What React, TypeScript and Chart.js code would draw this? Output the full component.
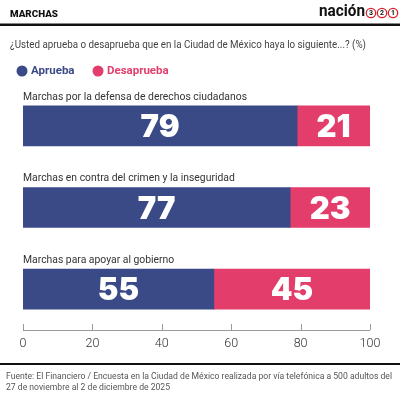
import React, { useEffect, useRef } from "react";
import { Chart, registerables } from "chart.js";

Chart.register(...registerables);

const categories = [
  "Marchas por la defensa de derechos ciudadanos",
  "Marchas en contra del crimen y la inseguridad",
  "Marchas para apoyar al gobierno",
];
const aprueba = [79, 77, 55];
const desaprueba = [21, 23, 45];
const seriesNames = ["Aprueba", "Desaprueba"];
const xTicks = [0, 20, 40, 60, 80, 100];

const BLUE = "#3a4a86";
const PINK = "#e33d6b";
const TEXT = "#333333";

const title = "MARCHAS";
const subtitle = "¿Usted aprueba o desaprueba que en la Ciudad de México haya lo siguiente...? (%)";
const footer1 = "Fuente: El Financiero / Encuesta en la Ciudad de México realizada por vía telefónica a 500 adultos del";
const footer2 = "27 de noviembre al 2 de diciembre de 2025";

function drawText(ctx: CanvasRenderingContext2D, text: string, x: number, y: number, sx: number, align: CanvasTextAlign = "left") {
  ctx.save();
  ctx.translate(x, y);
  ctx.scale(sx, 1);
  ctx.textAlign = align;
  ctx.fillText(text, 0, 0);
  ctx.restore();
}

const decorPlugin = {
  id: "decor",
  afterDraw(chart: any) {
    const ctx = chart.ctx as CanvasRenderingContext2D;
    const xs = chart.scales.x;
    const ys = chart.scales.y;
    const area = chart.chartArea;
    ctx.save();
    ctx.textBaseline = "middle";
    // header
    ctx.fillStyle = "#111";
    ctx.font = "900 9.5px Roboto";
    drawText(ctx, title, 10, 14.5, 48 / ctx.measureText(title).width);
    // logo
    const circles = ["3", "2", "1"];
    const centers = [371, 382, 393];
    circles.forEach((c, i) => {
      ctx.beginPath();
      ctx.arc(centers[i], 13, 4.7, 0, Math.PI * 2);
      ctx.strokeStyle = "#d9222a";
      ctx.lineWidth = 1.3;
      ctx.stroke();
      ctx.fillStyle = "#111";
      ctx.font = "bold 7px Roboto";
      ctx.textAlign = "center";
      ctx.fillText(c, centers[i], 13.5);
    });
    ctx.font = "bold 17px Roboto";
    ctx.fillStyle = "#111";
    drawText(ctx, "nación", 365, 12, 0.9, "right");
    // top rule
    ctx.fillStyle = "#111";
    ctx.fillRect(0, 23.5, 400, 2.5);
    // subtitle
    ctx.fillStyle = "#444";
    ctx.font = "11.5px Roboto";
    drawText(ctx, subtitle, 10, 45, 356 / ctx.measureText(subtitle).width);
    // legend
    const legColors = [BLUE, PINK];
    const legX = [22, 98];
    ctx.font = "bold 11.5px Roboto";
    seriesNames.forEach((n, i) => {
      ctx.beginPath();
      ctx.arc(legX[i], 71, 5.5, 0, Math.PI * 2);
      ctx.fillStyle = legColors[i];
      ctx.fill();
      drawText(ctx, n, legX[i] + 9, 71.5, 1.0);
    });
    // category labels
    ctx.fillStyle = TEXT;
    ctx.font = "11.5px Roboto";
    const catScale = 224 / ctx.measureText(categories[0]).width;
    categories.forEach((c, i) => {
      const y = ys.getPixelForValue(i);
      drawText(ctx, c, area.left, y - 29, catScale);
    });
    // axis baseline and ticks
    ctx.strokeStyle = "#9a9a9a";
    ctx.lineWidth = 1;
    ctx.beginPath();
    ctx.moveTo(area.left, area.bottom + 0.5);
    ctx.lineTo(area.right, area.bottom + 0.5);
    xTicks.forEach((t) => {
      const px = Math.round(xs.getPixelForValue(t)) + 0.5;
      ctx.moveTo(px, area.bottom);
      ctx.lineTo(px, area.bottom - 6);
    });
    ctx.stroke();
    // bottom rule
    ctx.fillStyle = "#111";
    ctx.fillRect(0, 363, 400, 2);
    // footer
    ctx.fillStyle = "#555";
    ctx.font = "9.5px Roboto";
    const fScale = 386 / ctx.measureText(footer1).width;
    drawText(ctx, footer1, 6, 377, fScale);
    drawText(ctx, footer2, 6, 388, fScale);
    ctx.restore();
  },
  afterDatasetsDraw(chart: any) {
    const ctx = chart.ctx as CanvasRenderingContext2D;
    ctx.save();
    ctx.fillStyle = "#fff";
    ctx.font = "900 31px Inter";
    ctx.textAlign = "center";
    ctx.textBaseline = "alphabetic";
    chart.data.datasets.forEach((ds: any, di: number) => {
      const meta = chart.getDatasetMeta(di);
      meta.data.forEach((el: any, i: number) => {
        const cx = (el.x + el.base) / 2;
        ctx.fillText(String(ds.data[i]), cx, el.y + 11);
      });
    });
    ctx.restore();
  },
};

export default function App() {
  const ref = useRef<HTMLCanvasElement>(null);
  useEffect(() => {
    if (!ref.current) return;
    const chart = new Chart(ref.current, {
      type: "bar",
      data: {
        labels: categories,
        datasets: [
          { label: seriesNames[0], data: aprueba, backgroundColor: BLUE, barThickness: 40 },
          { label: seriesNames[1], data: desaprueba, backgroundColor: PINK, barThickness: 40 },
        ],
      },
      options: {
        indexAxis: "y",
        animation: false,
        responsive: false,
        maintainAspectRatio: false,
        layout: { padding: { left: 23, right: 30, top: 85, bottom: 41 } },
        plugins: { legend: { display: false }, tooltip: { enabled: false } },
        scales: {
          x: {
            stacked: true,
            min: 0,
            max: 100,
            afterBuildTicks: (s: any) => {
              s.ticks = xTicks.map((v) => ({ value: v }));
            },
            grid: { display: false, drawTicks: false },
            border: { display: false },
            ticks: { color: "#333", font: { family: "Roboto", size: 12.5, weight: "300" }, padding: 6, maxRotation: 0 },
          },
          y: { stacked: true, display: false },
        },
      },
      plugins: [decorPlugin],
    } as any);
    return () => chart.destroy();
  }, []);
  return (
    <div style={{ position: "fixed", left: 0, top: 0, width: 400, height: 398, background: "#fff" }}>
      <canvas ref={ref} width={400} height={398} style={{ width: 400, height: 398 }} />
    </div>
  );
}
